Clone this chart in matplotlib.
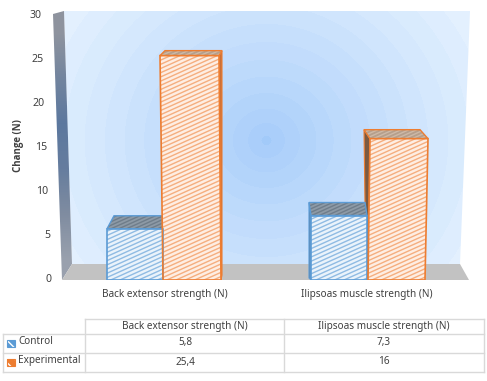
import numpy as np
import matplotlib
matplotlib.use("Agg")
import matplotlib.pyplot as plt
from matplotlib.collections import LineCollection
from matplotlib.patches import Polygon

categories = ['Back extensor strength (N)', 'Ilipsoas muscle strength (N)']
control = [5.8, 7.3]
experimental = [25.4, 16]
control_labels = ['5,8', '7,3']
experimental_labels = ['25,4', '16']
yticks = [0, 5, 10, 15, 20, 25, 30]

W, H = 487, 381
plt.rcParams['font.family'] = ['Noto Sans', 'DejaVu Sans']
plt.rcParams['hatch.linewidth'] = 1.0
TXT = '#404040'
GRID = '#d9d9d9'

fig = plt.figure(figsize=(W / 100, H / 100), dpi=100)

# axes in pixels for walls and table
px = fig.add_axes([0, 0, 1, 1])
px.set_xlim(0, W)
px.set_ylim(H, 0)
px.axis('off')

# value axes: y=0 at pixel 280, y=30 at pixel 15
ax = fig.add_axes([0, (H - 280) / H, 1, 265 / H])
ax.set_xlim(0, W)
ax.set_ylim(0, 30)
ax.axis('off')
ax.patch.set_alpha(0)
unit = 265 / 30


def hatched(points, face, line, lw=1.0, step=4.2, zorder=3):
    poly = Polygon(points, closed=True, fc=face, ec='none', zorder=zorder)
    ax.add_patch(poly)
    segs = []
    for c in np.arange(-260, 300, step):
        xs = np.array([0, W])
        segs.append(np.column_stack([xs, ((xs - 266) * 0.45 + c) / unit + 15]))
    lc = LineCollection(segs, colors=line, linewidths=lw, zorder=zorder + 0.1)
    ax.add_collection(lc)
    lc.set_clip_path(poly)


# back wall with radial shading
xx, yy = np.meshgrid(np.arange(W), np.arange(H))
r = np.hypot(xx - 266, (yy - 140) * 1.05)
t = np.clip(r / 255, 0, 1) ** 0.85
t = np.round(t * 14) / 14
t[r < 5] = -0.05
c0 = np.array([0.65, 0.80, 0.98])
c1 = np.array([0.91, 0.955, 1.0])
img = np.clip(c0 + (c1 - c0) * t[..., None], 0, 1)
im = px.imshow(img, extent=(0, W, H, 0), aspect='auto', zorder=1)
wall = Polygon([(64, 11), (470, 11), (460, 264), (72, 264)], closed=True, fc='none', ec='none')
px.add_patch(wall)
im.set_clip_path(wall)
px.set_xlim(0, W)
px.set_ylim(H, 0)

# left wall
grad = np.array([[0.56, 0.58, 0.62], [0.45, 0.52, 0.62], [0.36, 0.47, 0.62],
                 [0.40, 0.49, 0.62], [0.50, 0.55, 0.63], [0.60, 0.63, 0.68]])[:, None, :]
im2 = px.imshow(grad, extent=(50, 75, 282, 10), aspect='auto', zorder=2, interpolation='bilinear')
side = Polygon([(53, 14), (64, 11), (72, 264), (62, 280)], closed=True, fc='none', ec='none')
px.add_patch(side)
im2.set_clip_path(side)
px.set_xlim(0, W)
px.set_ylim(H, 0)

# floor
px.add_patch(Polygon([(72, 264), (460, 264), (469, 280), (62, 280)], closed=True, fc='#c2c2c2', ec='none', zorder=2))

BLUE = '#5b9bd5'
ORANGE = '#ed7d31'

# x of the front faces: (top left, top right, bottom left, bottom right), cap back (left, right), depth
ctrl_geo = [(107, 163, 107, 163, 114, 163, 13), (311, 367, 311, 367, 309, 365, 13)]
exp_geo = [(160, 219, 163, 221, 165, 222, 5), (370, 428, 368, 425, 364, 420, 9)]

for vals, geos, edge, line, back, cap, cap_line in [
        (control, ctrl_geo, BLUE, '#8fbbe3', '#eaf3fb', '#8d9aa6', '#6f7d8a'),
        (experimental, exp_geo, ORANGE, '#f5ae7f', '#feeee3', '#b59f8c', '#cdb9a7')]:
    for v, g in zip(vals, geos):
        tl, tr, bl, br, cl, cr, d = g
        dv = d / unit
        # left side of second group bars
        if cl < tl:
            side_col = '#5f83a8' if edge == BLUE else '#7b5a42'
            ax.add_patch(Polygon([(cl, v + dv), (tl, v), (bl, 0), (bl - 2, 2 / unit)], closed=True,
                                 fc=side_col, ec=edge, lw=0.8, zorder=2.8))
        # right sliver of the tall bar
        if cr > tr and edge == ORANGE:
            ax.add_patch(Polygon([(tr, v), (cr, v + dv), (cr, 5 / unit), (br, 0)], closed=True,
                                 fc='#c9703a', ec=edge, lw=0.8, zorder=2.8))
        top = [(tl, v), (cl, v + dv), (cr, v + dv), (tr, v)]
        hatched(top, cap, cap_line, lw=1.0, step=3.5, zorder=3)
        ax.add_patch(Polygon(top, closed=True, fc='none', ec=edge, lw=1.0, zorder=4))
        front = [(bl, 0), (tl, v), (tr, v), (br, 0)]
        hatched(front, back, line, zorder=5)
        ax.add_patch(Polygon(front, closed=True, fc='none', ec=edge, lw=1.2, zorder=6))

# y axis
for tick in yticks:
    ax.text(51.5 - tick * 0.32, tick, str(tick), ha='right', va='center', fontsize=7.6, color=TXT, clip_on=False)
px.text(19, 146, 'Change (N)', rotation=90, ha='center', va='center', fontsize=7.0, fontweight='bold',
        family=['Open Sans', 'DejaVu Sans'], color=TXT)

# category labels
for x, name in zip([165, 367], categories):
    px.text(x, 294, name, ha='center', va='center', fontsize=7.2, color=TXT)

# data table
for y, x0 in [(319, 85), (334, 3), (353, 3), (372, 3)]:
    px.plot([x0, 484], [y, y], color=GRID, lw=1, zorder=1)
for x, y0 in [(3, 334), (85, 319), (284, 319), (484, 319)]:
    px.plot([x, x], [y0, 372], color=GRID, lw=1, zorder=1)
for i, x in enumerate([185, 384]):
    px.text(x, 326, categories[i], ha='center', va='center', fontsize=7.2, color=TXT)
    px.text(x, 343, control_labels[i], ha='center', va='center', fontsize=7.2, color=TXT)
    px.text(x, 362, experimental_labels[i], ha='center', va='center', fontsize=7.2, color=TXT)
px.text(18, 342, 'Control', ha='left', va='center', fontsize=7.2, color=TXT)
px.text(18, 361, 'Experimental', ha='left', va='center', fontsize=7.2, color=TXT)
for y, edge in [(343, BLUE), (362, ORANGE)]:
    px.add_patch(plt.Rectangle((7, y - 3.5), 8, 7, fc=edge, ec='white', lw=0, hatch='\\\\\\', zorder=3))
    px.add_patch(plt.Rectangle((7, y - 3.5), 8, 7, fc='none', ec=edge, lw=0.8, zorder=4))

fig.savefig('out.png', dpi=100)
